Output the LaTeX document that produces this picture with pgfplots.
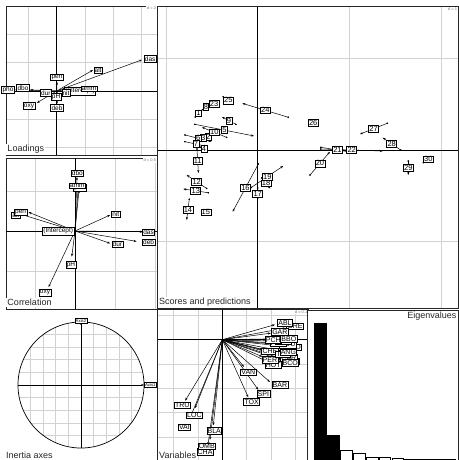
\documentclass[border=0pt]{standalone}
\usepackage{pgfplots}
\pgfplotsset{compat=1.18}
\usepackage{pgfplotstable}
\usepackage{fontspec}
\setmainfont{Liberation Sans}
\usetikzlibrary{arrows.meta}

% Loadings: arrow tips (tx,ty) and label positions (lx,ly)
\pgfplotstableread{
lab tx ty lx ly
(Intercept) 0 0 0.82 0.0
das 3.01 1.10 3.30 1.13
alt 1.28 0.74 1.46 0.74
pen 0.01 0.32 0.01 0.49
deb 0.01 -0.46 0.01 -0.60
pH 0.01 -0.11 -0.02 -0.21
dur -0.31 -0.04 -0.38 -0.07
pho -1.47 0.04 -1.72 0.04
nit 0.19 0.00 0.33 -0.07
amm 0.89 0.04 1.14 0.07
oxy -0.70 -0.42 -0.98 -0.53
dbo -0.94 0.04 -1.19 0.11
}\loadings

% Correlation
\pgfplotstableread{
lab tx ty lx ly
(Intercept) 0 0 -0.21 0.0
das 0.85 -0.01 0.92 -0.02
alt -0.68 0.21 -0.74 0.20
pen -0.58 0.235 -0.68 0.235
deb 0.77 -0.13 0.92 -0.14
pH -0.04 -0.32 -0.05 -0.42
dur 0.44 -0.155 0.53 -0.17
pho 0.05 0.51 0.06 0.54
nit 0.44 0.20 0.51 0.21
amm 0.04 0.54 0.03 0.57
oxy -0.33 -0.70 -0.375 -0.77
dbo 0.025 0.675 0.03 0.72
}\correl

% Scores (start) and predictions (end)
\pgfplotstableread{
lab xs ys xe ye
1 -0.68 0.36 -0.61 0.44
2 -0.58 0.12 -0.50 0.16
3 -0.62 0.12 -0.57 0.15
4 -0.62 0.03 -0.55 -0.01
5 -0.684 0.280 -0.040 0.153
6 -0.793 0.164 -0.503 0.092
7 -0.793 0.091 -0.553 0.039
8 -0.60 0.44 -0.53 0.50
9 -0.237 0.280 -0.389 0.360
10 -0.338 0.138 -0.608 0.248
11 -0.662 0.011 -0.646 -0.251
12 -0.556 -0.419 -0.774 -0.273
13 -0.539 -0.466 -0.811 -0.425
14 -0.746 -0.538 -0.774 -0.763
15 -0.57 -0.67 -0.56 -0.69
16 0.007 -0.153 -0.273 -0.673
17 0.0 -0.414 0.0 -0.545
18 0.044 -0.305 0.138 -0.421
19 -0.069 -0.408 0.279 -0.174
20 0.570 -0.273 0.788 -0.019
21 0.690 0.029 1.050 -0.029
22 0.687 0.011 1.363 -0.011
23 -0.50 0.48 -0.45 0.52
24 0.334 0.357 -0.168 0.509
25 -0.375 0.581 -0.266 0.502
26 0.59 0.29 0.62 0.31
27 1.413 0.291 1.116 0.174
28 1.559 0.000 1.363 0.134
29 1.642 -0.120 1.642 -0.273
30 1.806 -0.138 1.914 -0.064
}\scores

% Variables (species)
\pgfplotstableread{
lab tx ty lx ly
CHA -0.059 -0.433 -0.071 -0.462
TRU -0.153 -0.251 -0.165 -0.270
VAI -0.133 -0.322 -0.156 -0.360
LOC -0.112 -0.281 -0.115 -0.311
OMB -0.051 -0.412 -0.064 -0.439
BLA -0.037 -0.352 -0.033 -0.374
HOT 0.180 -0.088 0.210 -0.103
TOX 0.107 -0.237 0.121 -0.256
VAN 0.089 -0.112 0.107 -0.134
CHE 0.165 -0.040 0.196 -0.048
BAR 0.196 -0.174 0.237 -0.185
SPI 0.148 -0.206 0.169 -0.223
GOU 0.245 -0.078 0.279 -0.089
BRO 0.260 -0.028 0.292 -0.031
PER 0.165 -0.070 0.196 -0.082
BOU 0.240 -0.020 0.270 -0.020
PSO 0.200 -0.013 0.230 -0.015
ROT 0.220 -0.006 0.251 -0.007
CAR 0.240 -0.066 0.274 -0.075
TAN 0.220 -0.055 0.250 -0.060
BCO 0.245 -0.085 0.280 -0.095
PCH 0.180 0.000 0.210 0.000
GRE 0.260 0.048 0.299 0.055
GAR 0.200 0.027 0.237 0.032
BBO 0.240 0.004 0.274 0.004
ABL 0.217 0.062 0.258 0.069
ANG 0.240 -0.045 0.272 -0.051
}\species

\pgfplotstableread{
x y u v lab lx ly
0 0 1 0 Axis1 1.10 0
0 0 0 1 Axis2 0 1.016
}\inertia

\pgfplotstableread{
k eig
1 1.363
2 0.247
}\eigkept
\pgfplotstableread{
k eig
3 0.093
4 0.067
5 0.027
6 0.027
7 0.013
8 0.010
9 0.007
10 0.007
11 0.007
}\eigrest

\tikzset{
  lb/.style={draw=black, fill=white, line width=0.6pt, inner sep=0.8pt, text=black,
    font=\fontsize{#1}{#1}\selectfont, anchor=center},
  ttl/.style={fill=white, inner sep=1.3pt, text=black!85, font=\fontsize{9}{9}\selectfont},
  dlab/.style={fill=white, inner sep=0.8pt, text=black!55, font=\fontsize{4}{4}\selectfont, anchor=north east},
  arr/.style={black, line width=0.5pt, -{Stealth[length=3pt,width=2.2pt]}},
}
\pgfplotsset{
  adepanel/.style={
    scale only axis, anchor=south west,
    xticklabels={}, yticklabels={},
    major tick length=0pt,
    grid=major,
    grid style={gray!35, line width=0.7pt},
    extra x ticks={0}, extra y ticks={0},
    extra x tick labels={}, extra y tick labels={},
    extra tick style={grid=major, grid style={black, line width=0.7pt}, major tick length=0pt},
    axis line style={black!85, line width=0.7pt},
  },
  lbls/.style={only marks, mark=none, nodes near coords, point meta=explicit symbolic,
    nodes near coords align=center, nodes near coords style={lb=#1}},
}

\begin{document}
\begin{tikzpicture}
\path[use as bounding box] (0pt,0pt) rectangle (458pt,460pt);

% ---------------- Loadings
\begin{axis}[adepanel, at={(6pt,305pt)}, width=151pt, height=149pt,
  xmin=-1.79, xmax=3.54, ymin=-2.26, ymax=3.0,
  xtick={-1,1,2,3}, ytick={-2,-1,1,2,3}]
\addplot[arr, quiver={u=\thisrow{tx},v=\thisrow{ty}}, skip coords between index={0}{1}]
  table[x expr=0, y expr=0] {\loadings};
\addplot[lbls=6.5] table[x=lx, y=ly, meta=lab] {\loadings};
\node[ttl, anchor=south west] at (rel axis cs:0,0) {Loadings};
\node[dlab] at (rel axis cs:1,1) {d = 2};
\end{axis}

% ---------------- Correlation
\begin{axis}[adepanel, at={(6pt,151pt)}, width=151pt, height=151pt,
  xmin=-0.8625, xmax=1.025, ymin=-0.975, ymax=0.9125,
  xtick={-0.5,0.5,1}, ytick={-0.5,0.5}]
\addplot[arr, quiver={u=\thisrow{tx},v=\thisrow{ty}}, skip coords between index={0}{1}]
  table[x expr=0, y expr=0] {\correl};
\addplot[lbls=6.5] table[x=lx, y=ly, meta=lab] {\correl};
\node[ttl, anchor=south west] at ([yshift=2pt]rel axis cs:0,0) {Correlation};
\node[dlab] at (rel axis cs:1,1) {d = 0.5};
\end{axis}

% ---------------- Scores and predictions
\begin{axis}[adepanel, at={(157.7pt,152pt)}, width=300.3pt, height=301.3pt,
  xmin=-1.09, xmax=2.184, ymin=-1.723, ymax=1.563,
  xtick={-1,1,2}, ytick={-1,1}]
\addplot[arr, quiver={u=\thisrow{xe}-\thisrow{xs},v=\thisrow{ye}-\thisrow{ys}}]
  table[x=xs, y=ys] {\scores};
\addplot[only marks, mark=*, mark size=0.6pt, black] table[x=xs, y=ys] {\scores};
\addplot[lbls=7.5] table[x expr={(\thisrow{xs}+\thisrow{xe})/2},
  y expr={(\thisrow{ys}+\thisrow{ye})/2}, meta=lab] {\scores};
\node[ttl, anchor=south west] at (rel axis cs:0,0) {Scores and predictions};
\node[dlab] at (rel axis cs:1,1) {d = 1};
\end{axis}

% ---------------- Inertia axes
\begin{axis}[at={(5pt,0pt)}, anchor=south west, scale only axis, width=152pt, height=150pt,
  xmin=-1.206, xmax=1.206, ymin=-1.19, ymax=1.19, axis lines=none, clip=false]
\pgfplotsinvokeforeach{-0.8,-0.6,-0.4,-0.2,0.2,0.4,0.6,0.8}{
  \draw[gray!35, line width=0.6pt] (axis cs:#1,{-sqrt(1-(#1)^2)}) -- (axis cs:#1,{sqrt(1-(#1)^2)});
  \draw[gray!35, line width=0.6pt] (axis cs:{-sqrt(1-(#1)^2)},#1) -- (axis cs:{sqrt(1-(#1)^2)},#1);
}
\draw[black, line width=0.7pt] (axis cs:0,0) circle[radius=1];
\addplot[black, line width=0.7pt] coordinates {(-1,0) (0,0)};
\addplot[black, line width=0.7pt] coordinates {(0,-1) (0,0)};
\addplot[arr, line width=0.7pt, quiver={u=\thisrow{u},v=\thisrow{v}}] table[x=x, y=y] {\inertia};
\addplot[lbls=4.3] table[x=lx, y=ly, meta=lab] {\inertia};
\node[ttl, fill=none, anchor=south west, inner sep=1pt] at (rel axis cs:0,0) {Inertia axes};
\end{axis}

% ---------------- Variables
\begin{axis}[adepanel, at={(157.7pt,0pt)}, width=150.6pt, height=150.3pt,
  xmin=-0.266, xmax=0.354, ymin=-0.495, ymax=0.1235,
  xtick={-0.2,-0.1,0.1,0.2,0.3}, ytick={-0.4,-0.3,-0.2,-0.1,0.1}]
\addplot[arr, quiver={u=\thisrow{tx},v=\thisrow{ty}}] table[x expr=0, y expr=0] {\species};
\addplot[lbls=7] table[x=lx, y=ly, meta=lab] {\species};
\node[ttl, anchor=south west] at (rel axis cs:0,0) {Variables};
\node[dlab] at (rel axis cs:1,1) {d = 0.1};
\end{axis}

% ---------------- Eigenvalues
\begin{axis}[at={(307.3pt,0pt)}, anchor=south west, scale only axis, width=150.7pt, height=149.3pt,
  xmin=-0.027, xmax=11.70, ymin=0, ymax=1.493, xtick=\empty, ytick=\empty,
  axis background/.style={fill=white},
  axis line style={black!85, line width=0.7pt}]
\addplot[ybar, bar width=0.91, bar shift=0pt, fill=black, draw=black, line width=0.5pt]
  table[x=k, y=eig] {\eigkept};
\addplot[ybar, bar width=0.91, bar shift=0pt, fill=white, draw=black, line width=0.5pt]
  table[x=k, y=eig] {\eigrest};
\node[anchor=north east, inner sep=1.5pt, text=black!85, font=\fontsize{9}{9}\selectfont]
  at (rel axis cs:1,1) {Eigenvalues};
\end{axis}
\end{tikzpicture}
\end{document}
